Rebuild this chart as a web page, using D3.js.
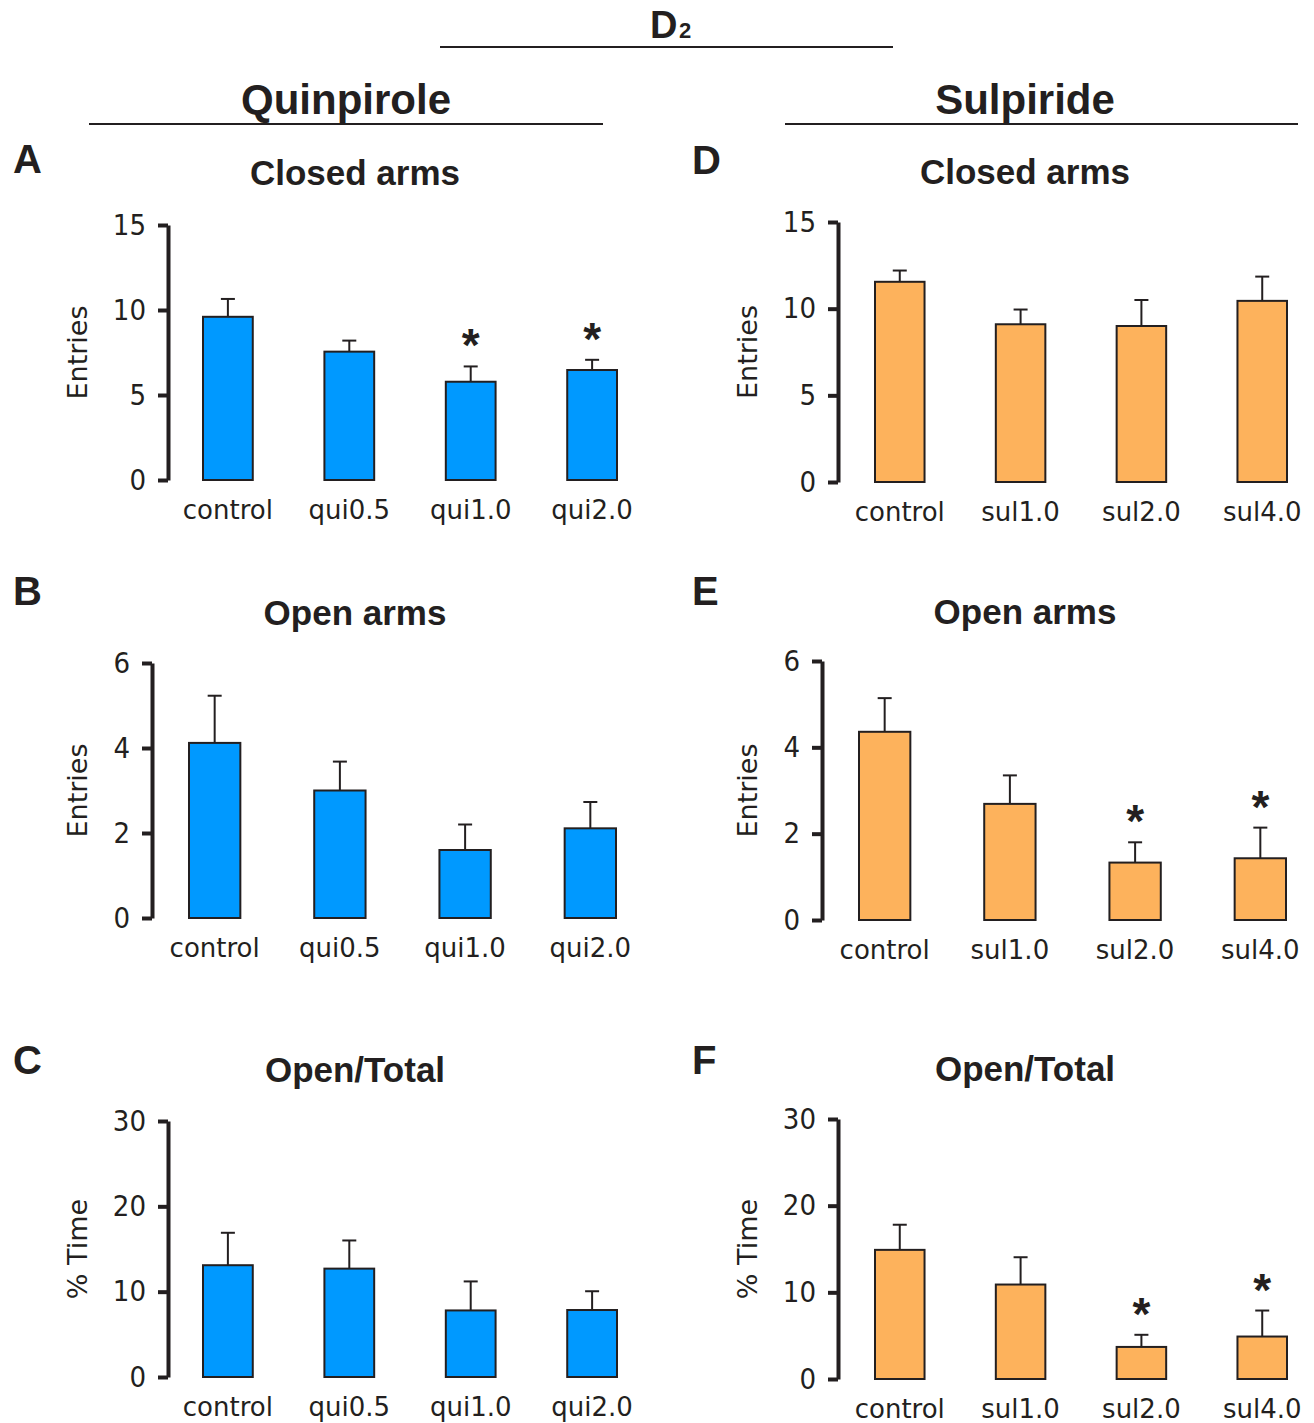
<!DOCTYPE html>
<meta charset="utf-8">
<style>
    body { margin: 0; background: #fff; }
    text { fill: #231f20; }
    .head { font-family: "Liberation Sans", Arial, sans-serif; font-weight: bold; }
    .cat, .ylab { font-family: "DejaVu Sans", Verdana, sans-serif; }
    .tick text { font-family: "DejaVu Sans Condensed", "DejaVu Sans", sans-serif; font-stretch: condensed; }
</style>
<svg width="1314" height="1423"></svg>
<script src="https://cdn.jsdelivr.net/npm/d3@7"></script>
<script>

    // categories
    var quiCats = ["control", "qui0.5", "qui1.0", "qui2.0"];
    var sulCats = ["control", "sul1.0", "sul2.0", "sul4.0"];

    // means and SEM
    var quiClosed = [9.6, 7.55, 5.78, 6.47];
    var quiClosedErr = [1.05, 0.65, 0.9, 0.6];
    var quiOpen = [4.12, 3.0, 1.6, 2.11];
    var quiOpenErr = [1.11, 0.68, 0.6, 0.62];
    var quiTime = [13.1, 12.7, 7.8, 7.85];
    var quiTimeErr = [3.8, 3.3, 3.4, 2.2];

    var sulClosed = [11.55, 9.1, 9.0, 10.45];
    var sulClosedErr = [0.65, 0.85, 1.5, 1.4];
    var sulOpen = [4.36, 2.69, 1.33, 1.43];
    var sulOpenErr = [0.78, 0.66, 0.47, 0.71];
    var sulTime = [14.9, 10.9, 3.7, 4.9];
    var sulTimeErr = [2.9, 3.15, 1.4, 3.0];

    // significance marks
    var quiClosedSig = [0, 0, 1, 1];
    var sulOpenSig = [0, 0, 1, 1];
    var sulTimeSig = [0, 0, 1, 1];
    var noSig = [0, 0, 0, 0];

    var closedTicks = [0, 5, 10, 15];
    var openTicks = [0, 2, 4, 6];
    var timeTicks = [0, 10, 20, 30];

    const BLUE = "#0099ff";
    const ORANGE = "#fdb25c";
    const INK = "#231f20";

    var svg = d3.select("svg");

    // header
    svg.append("text").attr("class", "head").attr("x", 650).attr("y", 38)
        .style("font-size", "38px").text("D");
    svg.append("text").attr("class", "head").attr("x", 679).attr("y", 38)
        .style("font-size", "22px").text("2");
    svg.append("line").attr("x1", 440).attr("x2", 893).attr("y1", 47).attr("y2", 47)
        .attr("stroke", INK).attr("stroke-width", 2);

    [["Quinpirole", 346, 89, 603], ["Sulpiride", 1025, 785, 1298]].forEach(function (h) {
        svg.append("text").attr("class", "head").attr("x", h[1]).attr("y", 114)
            .attr("text-anchor", "middle").style("font-size", "42px").text(h[0]);
        svg.append("line").attr("x1", h[2]).attr("x2", h[3]).attr("y1", 124).attr("y2", 124)
            .attr("stroke", INK).attr("stroke-width", 2);
    });

    var panels = [
        {letter: "A", lx: 13, ly: 173, title: "Closed arms", tx: 355, ty: 185, ylab: "Entries", labx: 78,
            axisX: 168, yTop: 225, yBot: 480, b0: 203, b1: 617, max: 15, ticks: closedTicks,
            cats: quiCats, vals: quiClosed, errs: quiClosedErr, sig: quiClosedSig, fill: BLUE},
        {letter: "B", lx: 13, ly: 605, title: "Open arms", tx: 355, ty: 625, ylab: "Entries", labx: 78,
            axisX: 152, yTop: 663, yBot: 918, b0: 189, b1: 616, max: 6, ticks: openTicks,
            cats: quiCats, vals: quiOpen, errs: quiOpenErr, sig: noSig, fill: BLUE},
        {letter: "C", lx: 13, ly: 1074, title: "Open/Total", tx: 355, ty: 1082, ylab: "% Time", labx: 78,
            axisX: 168, yTop: 1121, yBot: 1377, b0: 203, b1: 617, max: 30, ticks: timeTicks,
            cats: quiCats, vals: quiTime, errs: quiTimeErr, sig: noSig, fill: BLUE},
        {letter: "D", lx: 692, ly: 174, title: "Closed arms", tx: 1025, ty: 184, ylab: "Entries", labx: 748,
            axisX: 838, yTop: 222, yBot: 482, b0: 875, b1: 1287, max: 15, ticks: closedTicks,
            cats: sulCats, vals: sulClosed, errs: sulClosedErr, sig: noSig, fill: ORANGE},
        {letter: "E", lx: 692, ly: 605, title: "Open arms", tx: 1025, ty: 624, ylab: "Entries", labx: 748,
            axisX: 822, yTop: 661, yBot: 920, b0: 859, b1: 1286, max: 6, ticks: openTicks,
            cats: sulCats, vals: sulOpen, errs: sulOpenErr, sig: sulOpenSig, fill: ORANGE},
        {letter: "F", lx: 692, ly: 1074, title: "Open/Total", tx: 1025, ty: 1081, ylab: "% Time", labx: 748,
            axisX: 838, yTop: 1119, yBot: 1379, b0: 875, b1: 1287, max: 30, ticks: timeTicks,
            cats: sulCats, vals: sulTime, errs: sulTimeErr, sig: sulTimeSig, fill: ORANGE}
    ];

    panels.forEach(drawPanel);

    function drawPanel(p) {
        var g = svg.append("g");

        g.append("text").attr("class", "head").attr("x", p.lx).attr("y", p.ly)
            .style("font-size", "40px").text(p.letter);
        g.append("text").attr("class", "head").attr("x", p.tx).attr("y", p.ty)
            .attr("text-anchor", "middle").style("font-size", "35px").text(p.title);

        var x = d3.scaleBand().domain(p.cats).range([p.b0, p.b1])
            .paddingInner(0.59).paddingOuter(0);
        var y = d3.scaleLinear().domain([0, p.max]).range([p.yBot, p.yTop]);

        var data = p.cats.map(function (c, i) {
            return {cat: c, v: p.vals[i], e: p.errs[i], s: p.sig[i]};
        });

        // error bars (upper only)
        var eb = g.append("g").attr("stroke", INK).attr("stroke-width", 2);
        eb.selectAll("line.v").data(data).enter().append("line")
            .attr("x1", function (d) { return x(d.cat) + x.bandwidth() / 2; })
            .attr("x2", function (d) { return x(d.cat) + x.bandwidth() / 2; })
            .attr("y1", function (d) { return y(d.v); })
            .attr("y2", function (d) { return y(d.v + d.e); });
        eb.selectAll("line.c").data(data).enter().append("line")
            .attr("x1", function (d) { return x(d.cat) + x.bandwidth() / 2 - 7; })
            .attr("x2", function (d) { return x(d.cat) + x.bandwidth() / 2 + 7; })
            .attr("y1", function (d) { return y(d.v + d.e); })
            .attr("y2", function (d) { return y(d.v + d.e); });

        g.selectAll("rect").data(data).enter().append("rect")
            .attr("x", function (d) { return x(d.cat); })
            .attr("width", x.bandwidth())
            .attr("y", function (d) { return y(d.v); })
            .attr("height", function (d) { return y(0) - y(d.v); })
            .attr("fill", p.fill)
            .attr("stroke", INK)
            .attr("stroke-width", 2);

        g.selectAll("text.star").data(data.filter(function (d) { return d.s; })).enter()
            .append("text").attr("class", "head star")
            .attr("x", function (d) { return x(d.cat) + x.bandwidth() / 2; })
            .attr("y", function (d) { return y(d.v + d.e) - 5; })
            .attr("text-anchor", "middle")
            .style("font-size", "46px")
            .text("*");

        var axis = d3.axisLeft(y).tickValues(p.ticks).tickFormat(d3.format("d"))
            .tickSize(10).tickSizeOuter(0).tickPadding(12);
        var ax = g.append("g").attr("transform", "translate(" + p.axisX + ",0)").call(axis);
        ax.select(".domain").attr("stroke", INK).attr("stroke-width", 4);
        ax.selectAll(".tick line").attr("stroke", INK).attr("stroke-width", 4);
        ax.selectAll(".tick text").style("font-size", "29px").attr("fill", INK);

        g.selectAll("text.cat").data(p.cats).enter().append("text")
            .attr("class", "cat")
            .attr("x", function (c) { return x(c) + x.bandwidth() / 2; })
            .attr("y", p.yBot + 39)
            .attr("text-anchor", "middle")
            .style("font-size", "26px")
            .text(function (c) { return c; });

        g.append("text").attr("class", "ylab")
            .attr("transform", "translate(" + p.labx + "," + ((p.yTop + p.yBot) / 2) + ") rotate(-90)")
            .attr("text-anchor", "middle")
            .attr("dy", "0.35em")
            .style("font-size", "27px")
            .text(p.ylab);
    }

</script>
